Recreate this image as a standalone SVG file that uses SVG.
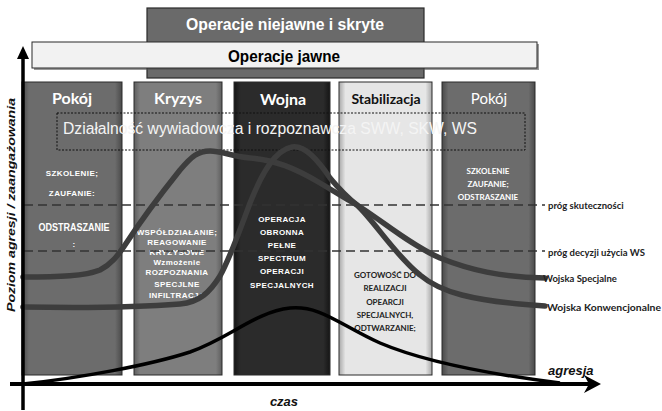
<svg xmlns="http://www.w3.org/2000/svg" width="662" height="411" viewBox="0 0 662 411">
<defs>
<linearGradient id="gPok" x1="0" x2="1" y1="0" y2="0">
<stop offset="0" stop-color="#4a4a4a"/><stop offset="0.07" stop-color="#6c6c6c"/><stop offset="0.93" stop-color="#6c6c6c"/><stop offset="1" stop-color="#4a4a4a"/>
</linearGradient>
<linearGradient id="gKry" x1="0" x2="1" y1="0" y2="0">
<stop offset="0" stop-color="#5e5e5e"/><stop offset="0.07" stop-color="#7e7e7e"/><stop offset="0.93" stop-color="#7e7e7e"/><stop offset="1" stop-color="#5e5e5e"/>
</linearGradient>
<linearGradient id="gWoj" x1="0" x2="1" y1="0" y2="0">
<stop offset="0" stop-color="#151515"/><stop offset="0.07" stop-color="#2b2b2b"/><stop offset="0.93" stop-color="#2b2b2b"/><stop offset="1" stop-color="#151515"/>
</linearGradient>
<linearGradient id="gSta" x1="0" x2="1" y1="0" y2="0">
<stop offset="0" stop-color="#a8a8a8"/><stop offset="0.07" stop-color="#e6e6e6"/><stop offset="0.93" stop-color="#e6e6e6"/><stop offset="1" stop-color="#a8a8a8"/>
</linearGradient>
<style>
.panel{stroke:#2a2a2a;stroke-width:1}
.hdr{font-family:Lato,"Liberation Sans",sans-serif;font-weight:bold;text-anchor:middle}
.sm{font-family:"Liberation Sans",Arial,sans-serif;font-weight:bold;font-size:8px;fill:#fff;text-anchor:middle;letter-spacing:0.4px}
.cal{font-family:Lato,"Liberation Sans",sans-serif;font-weight:bold;font-size:8px;text-anchor:middle}
.dash{stroke:#333;stroke-width:1.5;stroke-dasharray:9,5;fill:none}
.curve{fill:none;stroke:#3d3d3d;stroke-width:5.5;stroke-linecap:round}
.lbl{font-family:Lato,"Liberation Sans",sans-serif;font-weight:bold;font-size:9.5px;fill:#222}
.ax{font-family:"Liberation Sans",Arial,sans-serif;font-weight:bold;font-style:italic;fill:#111}
</style>
</defs>
<rect width="662" height="411" fill="#fff"/>

<g id="niejawne">
<rect x="147" y="8" width="277" height="70" fill="#6a6a6a" stroke="#2a2a2a" stroke-width="1.2"/>
<text x="285" y="30" font-family="'Liberation Sans',Arial,sans-serif" font-weight="bold" font-size="16" fill="#fff" text-anchor="middle" textLength="198" lengthAdjust="spacingAndGlyphs">Operacje niejawne i skryte</text>
</g>
<g id="jawne">
<rect x="34" y="44" width="505" height="26" fill="#555" opacity="0.6"/>
<rect x="32" y="42" width="505" height="26" fill="#f2f2f2" stroke="#2a2a2a" stroke-width="1"/>
<text x="284" y="62" font-family="'Liberation Sans',Arial,sans-serif" font-weight="bold" font-size="16" fill="#000" text-anchor="middle" textLength="112" lengthAdjust="spacingAndGlyphs">Operacje jawne</text>
</g>

<g id="pokoj1">
<rect class="panel" x="22" y="82" width="100" height="293" fill="url(#gPok)"/>
<text class="hdr" x="72" y="104" font-size="16" fill="#fff">Pokój</text>
<text class="sm" x="72" y="176">SZKOLENIE;</text>
<text class="sm" x="72" y="196">ZAUFANIE:</text>
<text x="74" y="231" font-family="'Liberation Sans',Arial,sans-serif" font-weight="bold" font-size="10.5" fill="#fff" text-anchor="middle" textLength="71" lengthAdjust="spacingAndGlyphs">ODSTRASZANIE</text>
<text class="sm" x="74" y="247">:</text>
</g>
<g id="kryzys">
<rect class="panel" x="134" y="82" width="88" height="293" fill="url(#gKry)"/>
<text class="hdr" x="178" y="104" font-size="16" fill="#fff">Kryzys</text>
<text class="sm" x="177" y="235" font-size="7.5">WSPÓŁDZIAŁANIE;</text>
<text class="sm" x="177" y="245">REAGOWANIE</text>
<text class="sm" x="177" y="255">KRYZYSOWE</text>
<text class="sm" x="177" y="265">Wzmożenie</text>
<text class="sm" x="177" y="275">ROZPOZNANIA</text>
<text class="sm" x="177" y="287">SPECJLNE</text>
<text class="sm" x="177" y="298">INFILTRACJA</text>
</g>
<g id="wojna">
<rect class="panel" x="234" y="82" width="96" height="293" fill="url(#gWoj)"/>
<text class="hdr" x="283" y="105" font-size="16" fill="#fff">Wojna</text>
<text class="sm" x="282" y="222">OPERACJA</text>
<text class="sm" x="282" y="235">OBRONNA</text>
<text class="sm" x="282" y="248" font-size="9">PEŁNE</text>
<text class="sm" x="282" y="261" font-size="9">SPECTRUM</text>
<text class="sm" x="282" y="274" font-size="9">OPERACJI</text>
<text class="sm" x="282" y="288" font-size="9">SPECJALNYCH</text>
</g>
<g id="stabilizacja">
<rect class="panel" x="339" y="82" width="93" height="293" fill="url(#gSta)"/>
<text class="hdr" x="386" y="104" font-size="14" fill="#111">Stabilizacja</text>
<text class="cal" x="385" y="278" fill="#222">GOTOWOŚĆ DO</text>
<text class="cal" x="385" y="291" fill="#222">REALIZACJI</text>
<text class="cal" x="385" y="305" fill="#222">OPEARCJI</text>
<text class="cal" x="385" y="318" fill="#222">SPECJALNYCH,</text>
<text class="cal" x="385" y="331" fill="#222">ODTWARZANIE;</text>
</g>
<g id="pokoj2">
<rect class="panel" x="442" y="82" width="93" height="293" fill="url(#gPok)"/>
<text x="489" y="104" font-family="Lato,'Liberation Sans',sans-serif" font-size="15" fill="#fff" text-anchor="middle">Pokój</text>
<text class="cal" x="488" y="174" fill="#fff">SZKOLENIE</text>
<text class="cal" x="488" y="187" fill="#fff">ZAUFANIE;</text>
<text class="cal" x="488" y="200" fill="#fff">ODSTRASZANIE</text>
</g>

<g id="wywiad">
<rect x="57" y="113" width="468" height="37" fill="none" stroke="#111" stroke-width="1" stroke-dasharray="2,1.5"/>
<text x="63" y="134" font-family="'Liberation Sans',Arial,sans-serif" font-size="16" fill="#f4f4f4" textLength="414" lengthAdjust="spacingAndGlyphs">Działalność wywiadowcza i rozpoznawcza SWW, SKW, WS</text>
</g>

<g id="connectors">
<line class="dash" x1="24" y1="205" x2="545" y2="205"/>
<line class="dash" x1="24" y1="251" x2="545" y2="251"/>
<path id="specjalne" class="curve" d="M23,277 C60,277 85,276 100,270 C112,264 118,255 125,245 C140,222 160,195 180,170 C192,156 198,151 210,151 C222,151 230,156 250,158 C275,160 295,168 320,183 C335,192 345,198 357,205 C380,219 410,245 440,258 C470,270 500,277 545,278"/>
<path id="konwencjonalne" class="curve" d="M23,307 C80,308 130,308 180,304 C200,302 210,292 220,276 C230,258 240,230 250,203 C262,173 275,150 292,147 C305,145 318,160 330,178 C340,190 348,198 357,205 C375,222 395,255 420,275 C440,292 470,301 545,306"/>
<path id="agresja-curve" d="M23,384 C80,378 150,365 190,352 C230,338 255,312 290,308 C320,305 340,325 380,343 C420,360 480,373 560,383" fill="none" stroke="#000" stroke-width="3.5"/>
<line x1="10" y1="384" x2="592" y2="384" stroke="#000" stroke-width="4"/>
<path d="M584,375 L601,384 L584,393 L589,384 Z" fill="#000"/>
<line x1="23" y1="410" x2="23" y2="55" stroke="#000" stroke-width="3.5"/>
<path d="M17,59 L23,46 L29,59 Z" fill="#000"/>
</g>

<g id="labels">
<text class="lbl" x="548" y="209">próg skuteczności</text>
<text class="lbl" x="548" y="256">próg decyzji  użycia WS</text>
<text class="lbl" x="543" y="282">Wojska Specjalne</text>
<text class="lbl" x="547" y="311" textLength="114" lengthAdjust="spacingAndGlyphs">Wojska Konwencjonalne</text>
<text class="ax" x="548" y="375" font-size="13">agresja</text>
<text class="ax" x="284" y="406" font-size="13" text-anchor="middle">czas</text>
<text class="ax" x="0" y="0" font-size="11.5" text-anchor="middle" transform="translate(15,205) rotate(-90)" textLength="214" lengthAdjust="spacingAndGlyphs">Poziom agresji / zaangażowania</text>
</g>
</svg>
